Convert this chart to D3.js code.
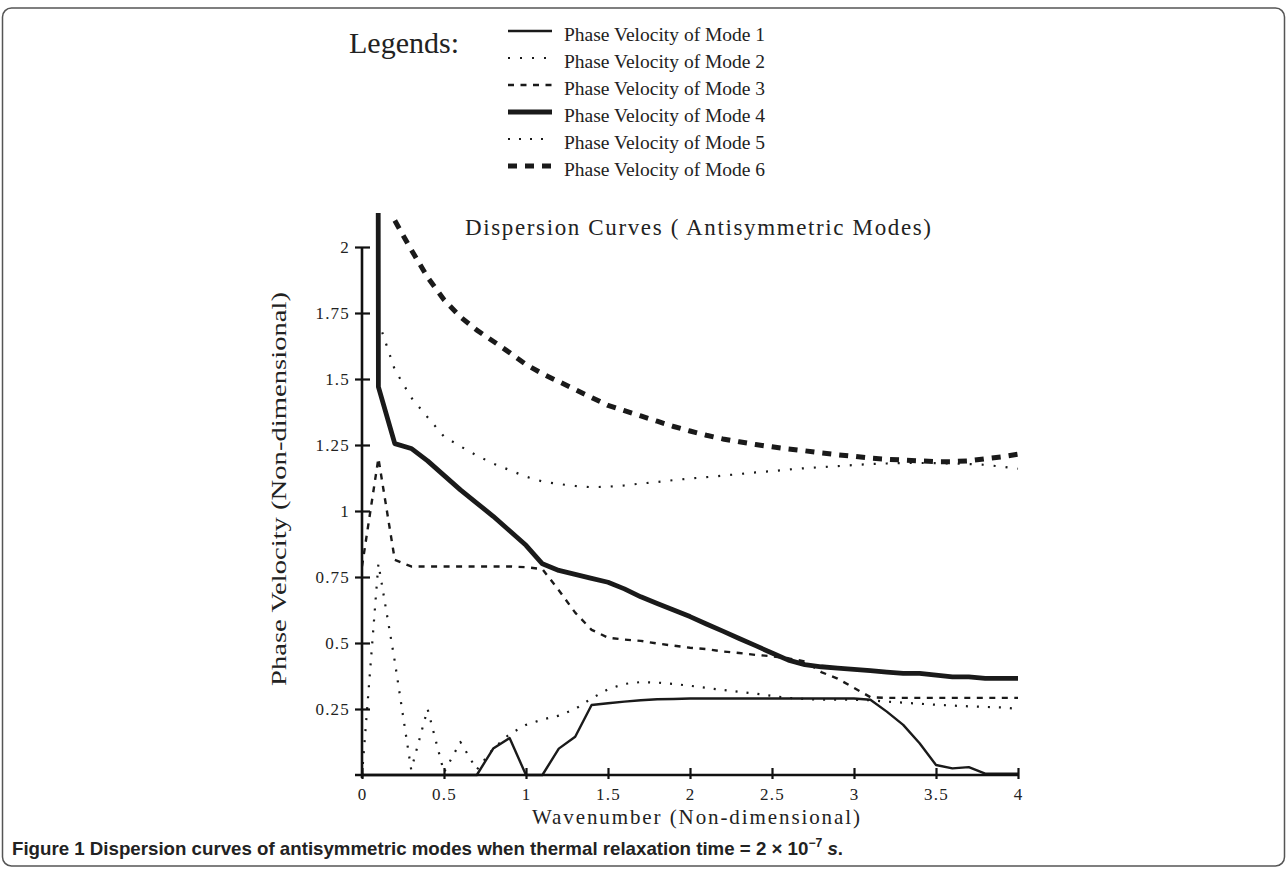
<!DOCTYPE html>
<meta charset="UTF-8">

<head>
    <title>Dispersion Curves (Antisymmetric Modes)</title>
</head>
<style>
    body {
        margin: 0;
        background: #fff;
    }

    svg text {
        font-family: "Liberation Serif", "Times New Roman", serif;
        fill: #222;
    }

    .caption {
        font-family: "Liberation Sans", Arial, sans-serif !important;
        font-weight: bold;
    }
</style>

<body>
    <div id="chart"></div>

    <script src="https://cdn.jsdelivr.net/npm/d3@7"></script>
    <script>
        var w = 1287;
        var h = 871;

        // wavenumber samples
        var wavenumber = [0, 0.1, 0.2, 0.3, 0.4, 0.5, 0.6, 0.7, 0.8, 0.9, 1.0,
            1.1, 1.2, 1.3, 1.4, 1.5, 1.6, 1.7, 1.8, 1.9, 2.0,
            2.1, 2.2, 2.3, 2.4, 2.5, 2.6, 2.7, 2.8, 2.9, 3.0,
            3.1, 3.2, 3.3, 3.4, 3.5, 3.6, 3.7, 3.8, 3.9, 4.0];

        // phase velocity of each mode (null = no value)
        var mode1 = [0, 0, 0, 0, 0, 0, 0, 0, 0.10, 0.14, 0,
            0, 0.10, 0.145, 0.265, 0.272, 0.278, 0.283, 0.287, 0.288, 0.29,
            0.29, 0.29, 0.29, 0.29, 0.29, 0.29, 0.29, 0.29, 0.29, 0.29,
            0.285, 0.24, 0.19, 0.12, 0.038, 0.025, 0.03, 0.005, 0.005, 0.005];
        var mode2 = [null, 1.72, 1.535, 1.43, 1.355, 1.282, 1.245, 1.21, 1.18, 1.155, 1.13,
            1.112, 1.102, 1.095, 1.09, 1.092, 1.097, 1.104, 1.11, 1.117, 1.123,
            1.128, 1.134, 1.14, 1.146, 1.151, 1.157, 1.162, 1.166, 1.17, 1.174,
            1.178, 1.18, 1.182, 1.182, 1.181, 1.18, 1.178, 1.175, 1.168, 1.16];
        var mode3 = [0.79, 1.20, 0.815, 0.79, 0.79, 0.79, 0.79, 0.79, 0.79, 0.79, 0.787,
            0.78, 0.70, 0.615, 0.55, 0.52, 0.513, 0.508, 0.498, 0.49, 0.482,
            0.477, 0.468, 0.462, 0.455, 0.45, 0.442, 0.43, 0.39, 0.365, 0.33,
            0.295, 0.292, 0.292, 0.292, 0.292, 0.292, 0.292, 0.292, 0.292, 0.292];
        var mode4 = [60, 1.47, 1.255, 1.237, 1.19, 1.135, 1.08, 1.03, 0.98, 0.925, 0.87,
            0.80, 0.775, 0.76, 0.745, 0.73, 0.705, 0.675, 0.65, 0.625, 0.60,
            0.572, 0.545, 0.517, 0.49, 0.462, 0.435, 0.418, 0.41, 0.405, 0.40,
            0.395, 0.39, 0.385, 0.385, 0.378, 0.372, 0.372, 0.366, 0.366, 0.366];
        var mode5 = [0, 0.80, 0.43, 0.02, 0.25, 0.01, 0.125, 0.02, 0.10, 0.155, 0.19,
            0.21, 0.225, 0.25, 0.29, 0.325, 0.345, 0.352, 0.35, 0.345, 0.338,
            0.33, 0.322, 0.315, 0.308, 0.30, 0.292, 0.288, 0.285, 0.285, 0.285,
            0.283, 0.278, 0.274, 0.27, 0.266, 0.263, 0.26, 0.258, 0.256, 0.25];
        var mode6 = [null, null, 2.10, 1.99, 1.885, 1.80, 1.735, 1.685, 1.643, 1.60, 1.555,
            1.52, 1.49, 1.46, 1.43, 1.40, 1.38, 1.36, 1.34, 1.32, 1.303,
            1.287, 1.273, 1.262, 1.252, 1.243, 1.235, 1.228, 1.22, 1.213, 1.207,
            1.20, 1.196, 1.193, 1.19, 1.187, 1.187, 1.19, 1.198, 1.205, 1.215];

        var legendLabels = ["Phase Velocity of Mode 1", "Phase Velocity of Mode 2", "Phase Velocity of Mode 3",
            "Phase Velocity of Mode 4", "Phase Velocity of Mode 5", "Phase Velocity of Mode 6"];
        var xTicks = [0, 0.5, 1, 1.5, 2, 2.5, 3, 3.5, 4];
        var xTickLabels = ["0", "0.5", "1", "1.5", "2", "2.5", "3", "3.5", "4"];
        var yTicks = [0.25, 0.5, 0.75, 1, 1.25, 1.5, 1.75, 2];
        var yTickLabels = ["0.25", "0.5", "0.75", "1", "1.25", "1.5", "1.75", "2"];

        // line styles: width, dash
        var styles = [
            { width: 2.4, dash: null },
            { width: 2.2, dash: "2,10" },
            { width: 2.4, dash: "6,6.5" },
            { width: 4.8, dash: null },
            { width: 2.2, dash: "2,9" },
            { width: 5, dash: "9,8" }
        ];
        var series = [mode1, mode2, mode3, mode4, mode5, mode6];

        var svg = d3.select("#chart")
            .append("svg")
            .attr("width", w)
            .attr("height", h);

        // figure frame
        svg.append("rect")
            .attr("x", 2.5).attr("y", 8)
            .attr("width", 1282).attr("height", 858)
            .attr("rx", 9)
            .attr("fill", "none")
            .attr("stroke", "#555")
            .attr("stroke-width", 1.5);

        var x = d3.scaleLinear().domain([0, 4]).range([362, 1018]);
        var y = d3.scaleLinear().domain([0, 2]).range([775, 247]);

        svg.append("clipPath").attr("id", "plotClip")
            .append("rect")
            .attr("x", 362).attr("y", 213)
            .attr("width", 660).attr("height", 570);

        var line = d3.line()
            .defined(function (d) { return d[1] != null; })
            .x(function (d) { return x(d[0]); })
            .y(function (d) { return y(d[1]); });

        svg.append("g").attr("clip-path", "url(#plotClip)")
            .selectAll("path")
            .data(series)
            .enter()
            .append("path")
            .attr("d", function (s) {
                return line(wavenumber.map(function (k, i) { return [k, s[i]]; }));
            })
            .attr("fill", "none")
            .attr("stroke", "#1a1a1a")
            .attr("stroke-linejoin", "round")
            .attr("stroke-width", function (s, i) { return styles[i].width; })
            .attr("stroke-dasharray", function (s, i) { return styles[i].dash; });

        // x axis
        var xAxis = svg.append("g")
            .attr("transform", "translate(0,775)")
            .call(d3.axisBottom(x).tickValues(xTicks)
                .tickFormat(function (d, i) { return xTickLabels[i]; }));
        xAxis.select(".domain").remove();
        xAxis.selectAll(".tick line").attr("y1", -7).attr("y2", 4)
            .attr("stroke", "#111").attr("stroke-width", 2.2);
        xAxis.selectAll(".tick text").attr("y", 13)
            .attr("font-size", 17).attr("letter-spacing", 1.2)
            .attr("font-family", "Liberation Serif");
        xAxis.append("line")
            .attr("x1", 355).attr("x2", 1018)
            .attr("stroke", "#111").attr("stroke-width", 2.6);

        // y axis
        var yAxis = svg.append("g")
            .attr("transform", "translate(362,0)")
            .call(d3.axisLeft(y).tickValues(yTicks)
                .tickFormat(function (d, i) { return yTickLabels[i]; }));
        yAxis.select(".domain").remove();
        yAxis.selectAll(".tick line").attr("x1", -7).attr("x2", 8)
            .attr("stroke", "#111").attr("stroke-width", 2.2);
        yAxis.selectAll(".tick text").attr("x", -12)
            .attr("font-size", 17).attr("letter-spacing", 1.2)
            .attr("font-family", "Liberation Serif");
        yAxis.append("line")
            .attr("y1", 247).attr("y2", 778)
            .attr("stroke", "#111").attr("stroke-width", 2.6);

        // titles
        svg.append("text")
            .attr("x", 465).attr("y", 235)
            .attr("font-size", 23)
            .attr("textLength", 466)
            .attr("lengthAdjust", "spacing")
            .text("Dispersion Curves ( Antisymmetric Modes)");

        svg.append("text")
            .attr("x", 532).attr("y", 824)
            .attr("font-size", 21)
            .attr("textLength", 328)
            .attr("lengthAdjust", "spacing")
            .text("Wavenumber (Non-dimensional)");

        svg.append("text")
            .attr("transform", "translate(286,686) rotate(-90)")
            .attr("font-size", 20)
            .attr("textLength", 394)
            .attr("lengthAdjust", "spacingAndGlyphs")
            .text("Phase Velocity (Non-dimensional)");

        // legend
        svg.append("text")
            .attr("x", 349).attr("y", 53)
            .attr("font-size", 30)
            .text("Legends:");

        var legend = svg.selectAll(".legendRow")
            .data(legendLabels)
            .enter()
            .append("g")
            .attr("class", "legendRow")
            .attr("transform", function (d, i) { return "translate(0," + (31 + i * 27) + ")"; });

        legend.append("line")
            .attr("x1", 508).attr("x2", 552)
            .attr("stroke", "#1a1a1a")
            .attr("stroke-width", function (d, i) { return styles[i].width; })
            .attr("stroke-dasharray", function (d, i) { return styles[i].dash; });

        legend.append("text")
            .attr("x", 564).attr("y", 10)
            .attr("font-size", 19.5)
            .text(function (d) { return d; });

        // caption
        var cap = svg.append("text")
            .attr("class", "caption")
            .attr("x", 12).attr("y", 855)
            .attr("font-size", 18.5)
            .attr("textLength", 831)
            .attr("lengthAdjust", "spacingAndGlyphs")
            .attr("fill", "#111");
        cap.append("tspan").text("Figure 1 ");
        cap.append("tspan").text("Dispersion curves of antisymmetric modes when thermal relaxation time = 2 \u00d7 10");
        cap.append("tspan").attr("dy", -8).attr("font-size", 12).text("\u22127");
        cap.append("tspan").attr("dy", 8).text(" ");
        cap.append("tspan").attr("font-style", "italic").text("s");
        cap.append("tspan").text(".");
    </script>
</body>

</html>
